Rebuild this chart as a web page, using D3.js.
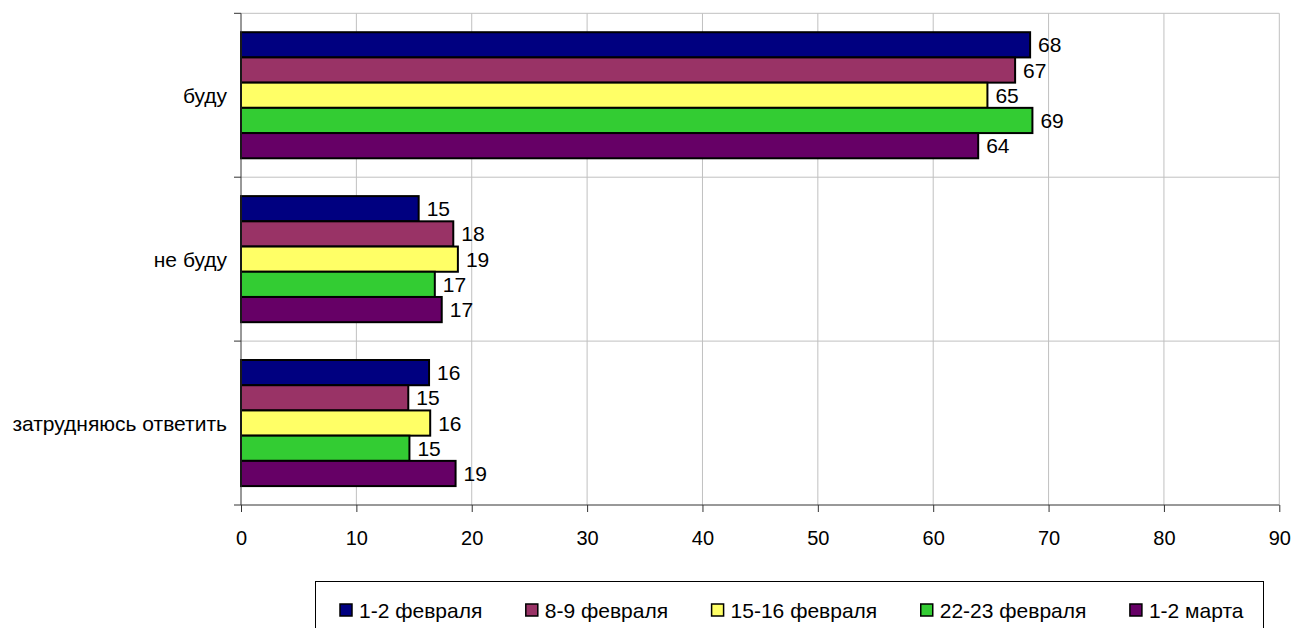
<!DOCTYPE html>
<html>
<head>
<meta charset="utf-8">
<script src="https://cdn.jsdelivr.net/npm/d3@7"></script>
<style>
  body { margin: 0; background: #fff; }
  svg { display: block; font-family: "Liberation Sans", Arial, sans-serif; }
</style>
</head>
<body>
<div id="viz"></div>
<script>
// Data
const categories = ["буду", "не буду", "затрудняюсь ответить"];
const seriesNames = ["1-2 февраля", "8-9 февраля", "15-16 февраля", "22-23 февраля", "1-2 марта"];
const feb1 = [68.4, 15.4, 16.3];
const feb8 = [67.1, 18.4, 14.5];
const feb15 = [64.7, 18.8, 16.4];
const feb22 = [68.6, 16.8, 14.6];
const mar1 = [63.9, 17.4, 18.6];
const seriesValues = [feb1, feb8, feb15, feb22, mar1];
const xTicks = [0, 10, 20, 30, 40, 50, 60, 70, 80, 90];
const colors = ["#000080", "#993366", "#FFFF66", "#33CC33", "#660066"];

// Geometry
const width = 1305;
const height = 628;
const plot = {left: 241, right: 1279.3, top: 13.3, bottom: 505};
const labelSize = 21;
const tickSize = 20;

const svg = d3.select("#viz")
  .append("svg")
  .attr("width", width)
  .attr("height", height);

// Scales
const xScale = d3.scaleLinear().domain([0, 90]).range([plot.left, plot.right]);
const yScale = d3.scaleBand().domain(categories).range([plot.top, plot.bottom]).padding(0);
const inner = d3.scaleBand()
  .domain(seriesNames)
  .range([0, yScale.bandwidth()])
  .paddingInner(0)
  .paddingOuter(0.75);

// Gridlines - vertical
svg.append("g")
  .selectAll("line")
  .data(xTicks.slice(1))
  .enter().append("line")
  .attr("x1", d => xScale(d)).attr("x2", d => xScale(d))
  .attr("y1", plot.top).attr("y2", plot.bottom)
  .attr("stroke", "#c0c0c0").attr("stroke-width", 1);

// Gridlines - horizontal (category boundaries)
svg.append("g")
  .selectAll("line")
  .data(categories)
  .enter().append("line")
  .attr("x1", plot.left).attr("x2", plot.right)
  .attr("y1", d => yScale(d)).attr("y2", d => yScale(d))
  .attr("stroke", "#c0c0c0").attr("stroke-width", 1);

// Bars
const rows = [];
categories.forEach((c, i) => {
  seriesNames.forEach((s, j) => {
    rows.push({cat: c, series: s, value: seriesValues[j][i], color: colors[j]});
  });
});

const barG = svg.append("g");
barG.selectAll("rect")
  .data(rows)
  .enter().append("rect")
  .attr("x", xScale(0))
  .attr("y", d => yScale(d.cat) + inner(d.series))
  .attr("width", d => xScale(d.value) - xScale(0))
  .attr("height", inner.bandwidth())
  .attr("fill", d => d.color)
  .attr("stroke", "#000")
  .attr("stroke-width", 2);

// Value labels
barG.selectAll("text")
  .data(rows)
  .enter().append("text")
  .attr("x", d => xScale(d.value) + 8)
  .attr("y", d => yScale(d.cat) + inner(d.series) + inner.bandwidth() / 2)
  .attr("dy", "0.36em")
  .attr("font-size", labelSize)
  .attr("fill", "#000")
  .text(d => Math.round(d.value));

// X axis
const xAxisG = svg.append("g")
  .attr("transform", "translate(0," + plot.bottom + ")")
  .call(d3.axisBottom(xScale).tickValues(xTicks).tickSize(7).tickPadding(19).tickSizeOuter(0));
xAxisG.select(".domain").attr("stroke", "#333").attr("d", "M" + (plot.left - 7) + ",0H" + plot.right);
xAxisG.selectAll(".tick line").attr("stroke", "#333");
xAxisG.selectAll(".tick text")
  .attr("font-size", tickSize)
  .attr("font-family", "Liberation Sans, Arial, sans-serif")
  .attr("fill", "#000");

// Y axis (category boundary ticks)
const yAxisG = svg.append("g");
yAxisG.append("line")
  .attr("x1", plot.left).attr("x2", plot.left)
  .attr("y1", plot.top).attr("y2", plot.bottom)
  .attr("stroke", "#333");
yAxisG.selectAll(".ytick")
  .data(categories)
  .enter().append("line")
  .attr("class", "ytick")
  .attr("x1", plot.left - 7).attr("x2", plot.left)
  .attr("y1", d => yScale(d)).attr("y2", d => yScale(d))
  .attr("stroke", "#333");

// Category labels
yAxisG.selectAll(".ylabel")
  .data(categories)
  .enter().append("text")
  .attr("class", "ylabel")
  .attr("x", plot.left - 14)
  .attr("y", d => yScale(d) + yScale.bandwidth() / 2)
  .attr("dy", "0.36em")
  .attr("text-anchor", "end")
  .attr("font-size", labelSize)
  .attr("fill", "#000")
  .text(d => d);

// Legend
const legend = {left: 315, top: 581, right: 1263, bottom: 640, itemY: 610};
svg.append("rect")
  .attr("x", legend.left + 0.5).attr("y", legend.top + 0.5)
  .attr("width", legend.right - legend.left).attr("height", legend.bottom - legend.top)
  .attr("fill", "#fff").attr("stroke", "#000").attr("stroke-width", 1);

let lx = 340;
seriesNames.forEach((s, j) => {
  const item = svg.append("g");
  item.append("rect")
    .attr("x", lx).attr("y", legend.itemY - 6)
    .attr("width", 12).attr("height", 12)
    .attr("fill", colors[j]).attr("stroke", "#000").attr("stroke-width", 1.5);
  const t = item.append("text")
    .attr("x", lx + 19).attr("y", legend.itemY)
    .attr("dy", "0.36em")
    .attr("font-size", labelSize)
    .attr("fill", "#000")
    .text(s);
  lx = lx + 19 + t.node().getComputedTextLength() + 43.5;
});
</script>
</body>
</html>
